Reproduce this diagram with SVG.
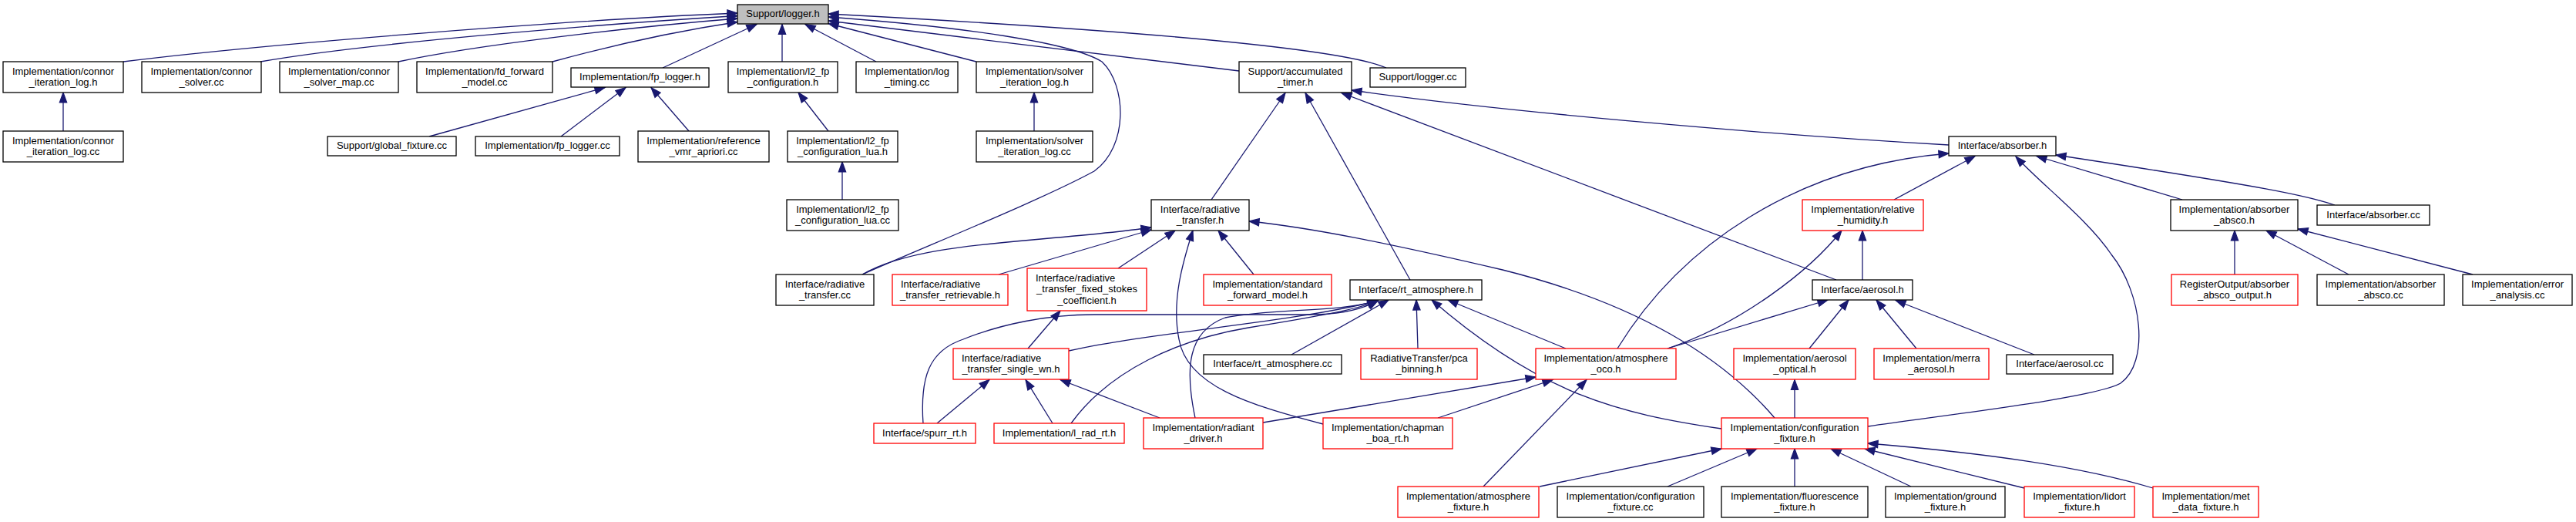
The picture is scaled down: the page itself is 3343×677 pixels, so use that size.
<svg xmlns="http://www.w3.org/2000/svg" width="3343" height="677" viewBox="0 0 3343 677">
<defs>
<style>
.n rect{fill:#fff;stroke:#000;stroke-width:1.3}
.r rect{stroke:#f00}
.g rect{fill:#bfbfbf}
text{font-family:"Liberation Sans",Arial,sans-serif;font-size:13px;fill:#000;text-anchor:middle}
text.s{text-anchor:start}
#edges path{fill:none;stroke:#191970;stroke-width:1.3;marker-end:url(#a)}
</style>
<marker id="a" markerUnits="userSpaceOnUse" viewBox="-1 -1 16 12" markerWidth="16" markerHeight="12" refX="13" refY="5" orient="auto">
<path d="M0,0.3 L13,5 L0,9.7 z" fill="#191970" stroke="#191970" stroke-width="1.2"/>
</marker>
</defs>
<rect width="3343" height="677" fill="#fff"/>
<g id="edges">
<path d="M160,80 C360,55 760,25 957,17"/>
<path d="M338,80 C480,55 800,30 957,20.5"/>
<path d="M517,80 C620,58 820,35 957,24"/>
<path d="M717,80 C790,60 880,40 957,28.5"/>
<path d="M860,88 L982,31.5"/>
<path d="M1015,80 L1015,31.5"/>
<path d="M1137,80 L1045,31.5"/>
<path d="M1267,80 L1075,30.5"/>
<path d="M1608,92 L1075,27"/>
<path d="M1799,88 C1740,62 1450,38 1075,18"/>
<path d="M1119,356 C1200,320 1350,260 1420,222 C1465,190 1462,110 1430,80 C1390,55 1250,35 1075,22"/>
<path d="M1572,259 L1668,120.5"/>
<path d="M1830,363 L1694,120.5"/>
<path d="M2383,363 L1741,120.5"/>
<path d="M2529,188 C2300,175 1950,145 1754,117"/>
<path d="M2832,259 L2643,202.5"/>
<path d="M3030,266 C2995,254 2950,244 2668,201"/>
<path d="M2458,259 L2563,202.5"/>
<path d="M2099,452 C2180,320 2330,215 2529,199"/>
<path d="M2424,553 C2550,535 2720,515 2752,497 C2790,470 2780,380 2740,330 C2710,285 2650,240 2616,203"/>
<path d="M2900,356 L2900,299"/>
<path d="M3048,356 L2941,299"/>
<path d="M3209,356 L2982,297"/>
<path d="M2417,363 L2417,299"/>
<path d="M2164,452 C2260,420 2350,350 2390,299"/>
<path d="M2164,452 L2372,389"/>
<path d="M2348,452 L2399,389"/>
<path d="M2487,452 L2435,389"/>
<path d="M2640,460 L2460,389.5"/>
<path d="M1198,549 C1194,490 1205,455 1250,440 C1300,420 1360,408 1420,408 L1700,408 C1740,408 1770,400 1788,390"/>
<path d="M1387,455 C1500,430 1680,418 1788,390"/>
<path d="M1390,549 C1440,480 1530,440 1620,425 C1700,412 1760,402 1788,390"/>
<path d="M1551,542 C1538,480 1540,430 1590,412 C1650,400 1740,405 1788,390"/>
<path d="M1676,460 L1802,389"/>
<path d="M1840,452 L1838,389"/>
<path d="M2032,452 L1879,389"/>
<path d="M2234,556 C2100,536 2000,512 1858,389"/>
<path d="M1119,356 C1170,326 1260,318 1340,311 C1420,304 1460,300 1494,295"/>
<path d="M1296,356 L1494,298"/>
<path d="M1451,348 L1525,299"/>
<path d="M1717,550 C1620,525 1540,500 1530,440 C1520,390 1535,340 1548,299"/>
<path d="M1627,356 L1581,299"/>
<path d="M2303,542 C2250,480 2150,400 1950,350 C1800,315 1700,295 1621,287"/>
<path d="M1334,452 L1376,403"/>
<path d="M1216,549 L1284,492.5"/>
<path d="M1366,549 L1331,492.5"/>
<path d="M1505,542 L1376,492.5"/>
<path d="M1639,548 L1993,489"/>
<path d="M1866,542 L2015,492.5"/>
<path d="M1925,631 L2059,492.5"/>
<path d="M1998,631 L2234,582"/>
<path d="M2164,631 L2280,582"/>
<path d="M2329,631 L2329,582"/>
<path d="M2480,631 L2376,582"/>
<path d="M2627,633 L2420,582"/>
<path d="M2794,633 C2700,605 2580,588 2424,575"/>
<path d="M2329,542 L2329,492.5"/>
<path d="M82,170 L82,120"/>
<path d="M557,177 L785,113.5"/>
<path d="M728,177 L812,113.5"/>
<path d="M894,170 L845,113.5"/>
<path d="M1075,170 L1036,120"/>
<path d="M1093,259 L1093,210"/>
<path d="M1342,170 L1342,120"/>
</g>
<g id="logger_h" class="n g"><rect x="957" y="6" width="118" height="25"/><text x="1016" y="22.3">Support/logger.h</text></g>
<g id="connor_iteration_log_h" class="n"><rect x="4" y="80" width="156" height="40"/><text x="82" y="96.65">Implementation/connor</text><text x="82" y="110.95">_iteration_log.h</text></g>
<g id="connor_solver_cc" class="n"><rect x="184" y="80" width="155" height="40"/><text x="261.5" y="96.65">Implementation/connor</text><text x="261.5" y="110.95">_solver.cc</text></g>
<g id="connor_solver_map_cc" class="n"><rect x="363" y="80" width="154" height="40"/><text x="440" y="96.65">Implementation/connor</text><text x="440" y="110.95">_solver_map.cc</text></g>
<g id="fd_forward_model_cc" class="n"><rect x="541" y="80" width="176" height="40"/><text x="629" y="96.65">Implementation/fd_forward</text><text x="629" y="110.95">_model.cc</text></g>
<g id="fp_logger_h" class="n"><rect x="741" y="88" width="179" height="25"/><text x="830.5" y="104.3">Implementation/fp_logger.h</text></g>
<g id="l2_fp_configuration_h" class="n"><rect x="945" y="80" width="142" height="40"/><text x="1016" y="96.65">Implementation/l2_fp</text><text x="1016" y="110.95">_configuration.h</text></g>
<g id="log_timing_cc" class="n"><rect x="1111" y="80" width="132" height="40"/><text x="1177" y="96.65">Implementation/log</text><text x="1177" y="110.95">_timing.cc</text></g>
<g id="solver_iteration_log_h" class="n"><rect x="1267" y="80" width="151" height="40"/><text x="1342.5" y="96.65">Implementation/solver</text><text x="1342.5" y="110.95">_iteration_log.h</text></g>
<g id="accumulated_timer_h" class="n"><rect x="1608" y="80" width="146" height="40"/><text x="1681" y="96.65">Support/accumulated</text><text x="1681" y="110.95">_timer.h</text></g>
<g id="logger_cc" class="n"><rect x="1778" y="88" width="124" height="25"/><text x="1840" y="104.3">Support/logger.cc</text></g>
<g id="connor_iteration_log_cc" class="n"><rect x="4" y="170" width="156" height="40"/><text x="82" y="186.65">Implementation/connor</text><text x="82" y="200.95">_iteration_log.cc</text></g>
<g id="global_fixture_cc" class="n"><rect x="425" y="177" width="167" height="25"/><text x="508.5" y="193.3">Support/global_fixture.cc</text></g>
<g id="fp_logger_cc" class="n"><rect x="617" y="177" width="187" height="25"/><text x="710.5" y="193.3">Implementation/fp_logger.cc</text></g>
<g id="reference_vmr_apriori_cc" class="n"><rect x="828" y="170" width="170" height="40"/><text x="913" y="186.65">Implementation/reference</text><text x="913" y="200.95">_vmr_apriori.cc</text></g>
<g id="l2_fp_configuration_lua_h" class="n"><rect x="1022" y="170" width="143" height="40"/><text x="1093.5" y="186.65">Implementation/l2_fp</text><text x="1093.5" y="200.95">_configuration_lua.h</text></g>
<g id="solver_iteration_log_cc" class="n"><rect x="1267" y="170" width="151" height="40"/><text x="1342.5" y="186.65">Implementation/solver</text><text x="1342.5" y="200.95">_iteration_log.cc</text></g>
<g id="absorber_h" class="n"><rect x="2529" y="177" width="139" height="25"/><text x="2598.5" y="193.3">Interface/absorber.h</text></g>
<g id="l2_fp_configuration_lua_cc" class="n"><rect x="1021" y="259" width="145" height="40"/><text x="1093.5" y="275.65">Implementation/l2_fp</text><text x="1093.5" y="289.95">_configuration_lua.cc</text></g>
<g id="radiative_transfer_h" class="n"><rect x="1494" y="259" width="127" height="40"/><text x="1557.5" y="275.65">Interface/radiative</text><text x="1557.5" y="289.95">_transfer.h</text></g>
<g id="relative_humidity_h" class="n r"><rect x="2339" y="259" width="157" height="40"/><text x="2417.5" y="275.65">Implementation/relative</text><text x="2417.5" y="289.95">_humidity.h</text></g>
<g id="absorber_absco_h" class="n"><rect x="2817" y="259" width="165" height="40"/><text x="2899.5" y="275.65">Implementation/absorber</text><text x="2899.5" y="289.95">_absco.h</text></g>
<g id="absorber_cc" class="n"><rect x="3007" y="266" width="146" height="26"/><text x="3080" y="282.8">Interface/absorber.cc</text></g>
<g id="radiative_transfer_cc" class="n"><rect x="1007" y="356" width="127" height="40"/><text x="1070.5" y="372.65">Interface/radiative</text><text x="1070.5" y="386.95">_transfer.cc</text></g>
<g id="radiative_transfer_retrievable_h" class="n r"><rect x="1158" y="356" width="150" height="40"/><text class="s" x="1169" y="372.65">Interface/radiative</text><text x="1233" y="386.95">_transfer_retrievable.h</text></g>
<g id="radiative_transfer_fixed_stokes_coefficient_h" class="n r"><rect x="1333" y="348" width="155" height="55"/><text class="s" x="1344" y="365">Interface/radiative</text><text x="1410.5" y="379.3">_transfer_fixed_stokes</text><text x="1410.5" y="393.6">_coefficient.h</text></g>
<g id="standard_forward_model_h" class="n r"><rect x="1562" y="356" width="166" height="40"/><text x="1645" y="372.65">Implementation/standard</text><text x="1645" y="386.95">_forward_model.h</text></g>
<g id="rt_atmosphere_h" class="n"><rect x="1752" y="363" width="171" height="26"/><text x="1837.5" y="379.8">Interface/rt_atmosphere.h</text></g>
<g id="aerosol_h" class="n"><rect x="2352" y="363" width="130" height="26"/><text x="2417" y="379.8">Interface/aerosol.h</text></g>
<g id="absorber_absco_output_h" class="n r"><rect x="2818" y="356" width="164" height="40"/><text x="2900" y="372.65">RegisterOutput/absorber</text><text x="2900" y="386.95">_absco_output.h</text></g>
<g id="absorber_absco_cc" class="n"><rect x="3007" y="356" width="165" height="40"/><text x="3089.5" y="372.65">Implementation/absorber</text><text x="3089.5" y="386.95">_absco.cc</text></g>
<g id="error_analysis_cc" class="n"><rect x="3196" y="356" width="142" height="40"/><text x="3267" y="372.65">Implementation/error</text><text x="3267" y="386.95">_analysis.cc</text></g>
<g id="radiative_transfer_single_wn_h" class="n r"><rect x="1237" y="452" width="150" height="40"/><text class="s" x="1248" y="468.65">Interface/radiative</text><text x="1312" y="482.95">_transfer_single_wn.h</text></g>
<g id="rt_atmosphere_cc" class="n"><rect x="1562" y="460" width="179" height="25"/><text x="1651.5" y="476.3">Interface/rt_atmosphere.cc</text></g>
<g id="pca_binning_h" class="n r"><rect x="1766" y="452" width="151" height="40"/><text x="1841.5" y="468.65">RadiativeTransfer/pca</text><text x="1841.5" y="482.95">_binning.h</text></g>
<g id="atmosphere_oco_h" class="n r"><rect x="1993" y="452" width="182" height="40"/><text x="2084" y="468.65">Implementation/atmosphere</text><text x="2084" y="482.95">_oco.h</text></g>
<g id="aerosol_optical_h" class="n r"><rect x="2250" y="452" width="158" height="40"/><text x="2329" y="468.65">Implementation/aerosol</text><text x="2329" y="482.95">_optical.h</text></g>
<g id="merra_aerosol_h" class="n r"><rect x="2432" y="452" width="149" height="40"/><text x="2506.5" y="468.65">Implementation/merra</text><text x="2506.5" y="482.95">_aerosol.h</text></g>
<g id="aerosol_cc" class="n"><rect x="2604" y="460" width="138" height="25"/><text x="2673" y="476.3">Interface/aerosol.cc</text></g>
<g id="spurr_rt_h" class="n r"><rect x="1134" y="549" width="132" height="26"/><text x="1200" y="565.8">Interface/spurr_rt.h</text></g>
<g id="l_rad_rt_h" class="n r"><rect x="1290" y="549" width="169" height="26"/><text x="1374.5" y="565.8">Implementation/l_rad_rt.h</text></g>
<g id="radiant_driver_h" class="n r"><rect x="1484" y="542" width="155" height="40"/><text x="1561.5" y="558.65">Implementation/radiant</text><text x="1561.5" y="572.95">_driver.h</text></g>
<g id="chapman_boa_rt_h" class="n r"><rect x="1717" y="542" width="168" height="40"/><text x="1801" y="558.65">Implementation/chapman</text><text x="1801" y="572.95">_boa_rt.h</text></g>
<g id="configuration_fixture_h" class="n r"><rect x="2234" y="542" width="190" height="40"/><text x="2329" y="558.65">Implementation/configuration</text><text x="2329" y="572.95">_fixture.h</text></g>
<g id="atmosphere_fixture_h" class="n r"><rect x="1814" y="631" width="183" height="40"/><text x="1905.5" y="647.65">Implementation/atmosphere</text><text x="1905.5" y="661.95">_fixture.h</text></g>
<g id="configuration_fixture_cc" class="n"><rect x="2021" y="631" width="190" height="40"/><text x="2116" y="647.65">Implementation/configuration</text><text x="2116" y="661.95">_fixture.cc</text></g>
<g id="fluorescence_fixture_h" class="n"><rect x="2234" y="631" width="190" height="40"/><text x="2329" y="647.65">Implementation/fluorescence</text><text x="2329" y="661.95">_fixture.h</text></g>
<g id="ground_fixture_h" class="n"><rect x="2447" y="631" width="155" height="40"/><text x="2524.5" y="647.65">Implementation/ground</text><text x="2524.5" y="661.95">_fixture.h</text></g>
<g id="lidort_fixture_h" class="n r"><rect x="2627" y="631" width="143" height="40"/><text x="2698.5" y="647.65">Implementation/lidort</text><text x="2698.5" y="661.95">_fixture.h</text></g>
<g id="met_data_fixture_h" class="n r"><rect x="2794" y="631" width="137" height="40"/><text x="2862.5" y="647.65">Implementation/met</text><text x="2862.5" y="661.95">_data_fixture.h</text></g>
</svg>
